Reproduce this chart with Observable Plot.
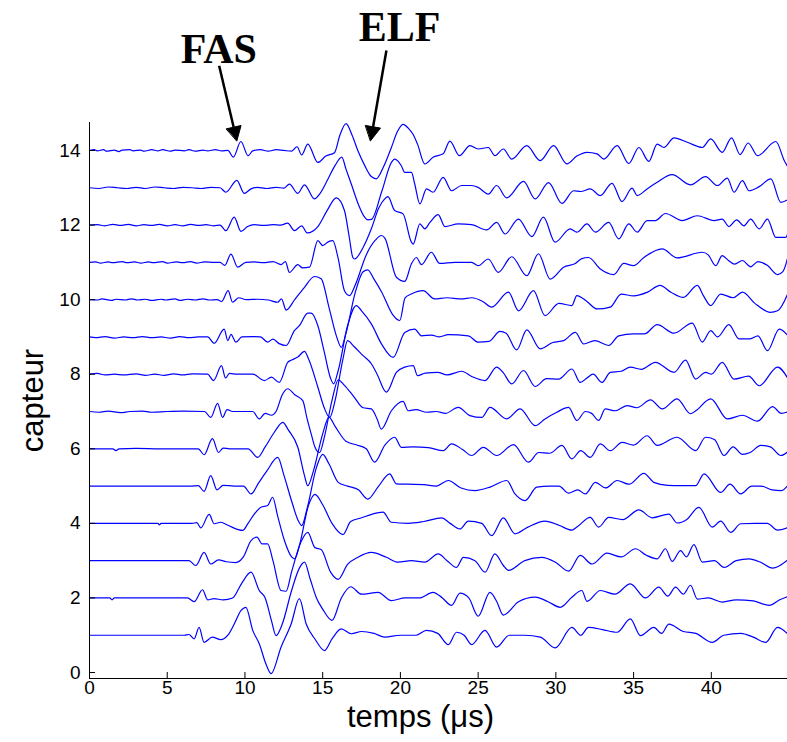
<!DOCTYPE html>
<html><head><meta charset="utf-8">
<script src="https://cdn.jsdelivr.net/npm/d3@7"></script>
<script src="https://cdn.jsdelivr.net/npm/@observablehq/plot@0.6"></script>
<style>body{margin:0;background:#fff}</style>
</head><body><div id="chart"></div>
<script>
// [time (µs), amplitude] per sensor (capteur)
const trace1 = [[0,0],[6.1,0],[6.4,0.02],[6.73,-0.1],[7.05,0.21],[7.37,-0.19],[7.9,-0.05],[8.45,-0.12],[8.9,0],[9.31,0.3],[9.74,0.66],[10.06,0.75],[10.5,0.13],[10.92,-0.23],[11.35,-0.77],[11.68,-1.03],[12.32,-0.32],[12.97,0.3],[13.5,0.98],[13.94,0.3],[14.5,-0.1],[15.12,-0.41],[15.6,-0.1],[16.19,0.17],[16.84,0.04],[17.5,0.1],[18.3,0.05],[18.99,-0.05],[20,0],[21,0],[21.68,0.13],[22.4,0.05],[23.08,-0.25],[23.61,0.08],[24.1,0],[24.58,-0.25],[25.44,0.13],[26.19,-0.32],[27,0],[28,0],[29,-0.05],[29.95,-0.34],[31.03,0.21],[31.6,0],[32.1,0.21],[33,0.15],[33.94,0.08],[34.79,0.44],[35.44,-0.01],[36.3,0.21],[36.8,0.05],[37.27,0.3],[38.2,0.1],[39,0.05],[40.06,-0.19],[40.8,0],[41.9,0.05],[42.7,-0.05],[43.5,-0.19],[44.26,0.21],[45,0]];
const trace2 = [[0,0],[1.3,0],[1.45,-0.05],[1.6,0],[6.3,0],[6.73,-0.1],[7.27,0.22],[7.6,-0.05],[8,-0.02],[8.6,-0.05],[9.2,0],[9.8,0.4],[10.39,0.69],[10.92,0.2],[11.3,0],[11.7,-0.6],[12,-1.01],[12.4,-0.7],[13,0.2],[13.5,0.8],[13.83,0.96],[14.2,0.5],[14.6,0],[15,-0.3],[15.6,-0.6],[16.2,0],[16.8,0.3],[17.5,0.1],[18.56,0.15],[19.42,-0.07],[20.3,0],[21.2,0],[22.1,0.15],[22.7,0],[23.29,-0.2],[23.83,0.13],[24.4,0],[25,-0.49],[25.76,0.15],[26.2,-0.1],[26.62,-0.46],[27.6,-0.1],[28.67,0.02],[29.5,-0.1],[30.28,-0.25],[31.03,0.02],[31.67,0.2],[32,-0.09],[32.86,0.2],[33.8,0.1],[34.79,0.38],[35.76,0],[36.62,0.29],[37.2,0.05],[37.7,0.29],[38.2,0.1],[38.66,0.34],[39.1,-0.03],[39.8,0],[40.7,-0.11],[41.6,-0.05],[42.7,-0.08],[43.72,-0.2],[44.4,-0.05],[45,0.05]];
const trace3 = [[0,0],[6.4,0],[6.84,-0.13],[7.37,0.22],[7.8,-0.09],[8.3,0.02],[8.8,-0.03],[9.4,-0.05],[9.9,0.1],[10.39,0.54],[10.77,0.63],[11.1,0.45],[11.46,0.45],[11.8,0],[12.32,-0.8],[12.65,-0.82],[13,-0.3],[13.6,0.5],[14.04,0.76],[14.5,0.35],[14.9,0.3],[15.5,-0.3],[16,-0.5],[16.6,-0.1],[17.3,0.1],[18.13,0.22],[19.1,0.09],[19.85,-0.04],[20.7,0],[21.57,-0.04],[22.43,0.18],[23,0],[23.61,-0.18],[24.05,0.09],[24.8,0],[25.44,-0.31],[26.08,0.18],[26.62,-0.13],[26.95,-0.26],[28,0],[29.1,0.09],[30,-0.05],[30.82,-0.28],[31.57,0.14],[32.32,-0.09],[33.29,0.2],[34.2,0.1],[35.12,0.32],[35.8,0.15],[36.52,0.05],[37.05,0.32],[37.48,-0.02],[38.02,0.27],[38.4,0.1],[38.88,0.43],[39.42,-0.04],[40.2,0],[40.82,-0.18],[41.6,0],[42.43,0.05],[43.2,-0.05],[43.94,-0.2],[45,0.05]];
const trace4 = [[0,0],[4.4,0],[4.5,-0.04],[4.6,0],[6.6,0],[6.9,0.02],[7.16,-0.12],[7.7,0.24],[8.02,-0.01],[8.45,0.03],[8.9,-0.05],[9.85,-0.19],[10.2,0],[10.6,0.25],[11.03,0.43],[11.46,0.48],[11.78,0.7],[12.1,0.2],[12.54,-0.46],[13,-0.9],[13.2,-0.95],[13.5,-0.6],[14.1,0.5],[14.5,0.78],[15,0.5],[15.6,0],[16.3,-0.3],[16.8,0.05],[17.5,0.15],[18.2,0.25],[18.88,0.3],[19.42,0.03],[20.5,0],[21.5,0.05],[22.65,0.15],[23.2,0],[23.83,-0.15],[24.37,0.06],[25.23,0],[25.87,-0.33],[26.62,0.15],[27.37,-0.28],[28.2,-0.1],[29.3,0.06],[30.2,-0.05],[31.03,-0.18],[31.35,-0.1],[32.21,0.16],[32.75,-0.1],[33.4,0.16],[34.3,0.1],[35.34,0.36],[36.2,0.15],[37.27,0.25],[37.8,0.01],[38.4,0.1],[39.2,0.43],[40.06,-0.1],[40.6,0.06],[41.25,-0.24],[41.89,-0.01],[42.8,0],[43.6,0],[44.26,-0.18],[45,-0.1]];
const trace5 = [[0,0],[6.5,0],[7,0.01],[7.37,-0.14],[7.8,0.28],[8.2,-0.1],[8.6,0.02],[9.3,0],[9.9,0],[10.39,-0.21],[10.9,0.1],[11.4,0.4],[12.11,0.77],[12.5,0.3],[13,-0.4],[13.4,-0.9],[13.65,-1.06],[14,-0.6],[14.6,0.5],[15,0.85],[15.4,0.6],[16,0.1],[16.6,0],[17.3,-0.1],[17.9,-0.35],[18.6,0],[19.31,0.33],[19.74,0.06],[20.5,0.05],[21.5,0.04],[22.3,0],[23.08,0.15],[23.9,-0.05],[24.8,-0.12],[25.8,-0.02],[26.84,0.15],[27.37,-0.21],[28.02,-0.39],[28.77,-0.03],[29.6,0],[30.2,0],[30.82,-0.19],[31.4,-0.1],[31.9,-0.21],[32.54,0.1],[33.2,-0.05],[33.94,0.15],[34.7,0.05],[35.66,0.34],[36.3,0.1],[37.2,0.02],[38.02,0.01],[38.99,0.01],[39.53,0.33],[40.6,-0.17],[41.2,0.05],[41.89,-0.21],[42.6,0],[43.2,0],[43.9,-0.1],[44.5,-0.12],[45,0.06]];
const trace6 = [[0,0],[1.5,0],[1.7,-0.05],[1.9,0],[3,0.01],[4.5,0],[7,0],[7.37,-0.16],[7.91,0.27],[8.3,-0.1],[8.6,0.02],[9,0],[10.2,0],[10.82,-0.23],[11.3,0.05],[11.9,0.45],[12.43,0.71],[12.8,0.5],[13.4,0.04],[13.83,-0.72],[14.04,-0.99],[14.4,-0.6],[15,0.4],[15.4,0.85],[15.8,0.6],[16.5,0.2],[17.2,0.1],[17.8,0],[18.34,-0.36],[19,0.1],[19.63,0.31],[20.06,0.04],[20.8,0.05],[21.8,0.03],[22.75,-0.05],[23.29,0.13],[24,-0.02],[24.58,-0.18],[25.33,0.04],[26.19,-0.18],[27.27,0.11],[28.24,-0.36],[28.9,-0.1],[29.6,-0.12],[30.39,0.09],[31.03,-0.27],[31.6,-0.05],[32.21,-0.23],[32.86,0.13],[33.5,-0.05],[34.26,0.17],[35,0.1],[35.87,0.35],[36.52,0.09],[37.8,0.31],[38.99,-0.05],[39.63,0.31],[40.2,0.25],[40.82,-0.18],[41.4,0.05],[42,-0.15],[42.5,-0.1],[43.18,0.09],[43.8,0.05],[44.47,-0.18],[45,-0.05]];
const trace7 = [[0,0],[0.6,-0.02],[1.2,0.01],[2,-0.03],[2.6,0],[3.4,0.01],[4,-0.02],[5,0],[6,0.01],[7.4,0],[7.8,-0.16],[8.24,0.22],[8.56,-0.16],[8.85,0.05],[9.2,0],[10.5,0],[10.92,-0.2],[11.3,-0.05],[11.7,-0.1],[12,0],[12.4,0.45],[12.75,0.61],[13.2,0.45],[13.72,0.29],[14,-0.2],[14.26,-0.6],[14.5,-0.95],[14.8,-1.1],[15.1,-0.7],[15.6,0.3],[16,0.85],[16.4,0.7],[17,0.4],[17.6,0.1],[18.13,0.07],[18.5,-0.2],[18.77,-0.47],[19.42,0.02],[20.17,0.27],[20.5,0.02],[21,0.05],[21.7,-0.02],[22.3,0],[22.9,-0.05],[23.72,0.11],[24.47,-0.11],[25.23,-0.16],[25.76,0.11],[26.84,-0.2],[27.7,0.07],[28.67,-0.38],[29.3,-0.2],[30.06,-0.02],[30.82,0.11],[31.35,-0.24],[31.9,0],[32.3,-0.05],[32.75,-0.24],[33.18,0.07],[33.8,0.02],[34.58,0.16],[35.2,0.1],[36.09,0.31],[36.84,0.07],[37.8,0.34],[38.66,-0.06],[39,0.02],[39.96,0.34],[41.03,-0.2],[42,-0.1],[42.97,-0.26],[43.94,0.13],[44.5,-0.05],[45,0]];
const trace8 = [[0,0],[0.5,0.02],[1,-0.02],[1.6,0],[2.2,-0.02],[3,0.01],[3.6,-0.03],[4.2,0],[4.8,-0.03],[5.4,0.01],[6,-0.02],[6.6,0.01],[7.6,0],[7.98,-0.17],[8.49,0.23],[8.75,-0.1],[9,0.02],[9.5,0],[10.5,0],[11.25,-0.17],[11.7,-0.08],[12.21,-0.22],[12.75,0.32],[13,0.38],[13.4,0.46],[13.83,0.61],[14.1,0.4],[14.69,-0.35],[15.1,-0.9],[15.45,-1.16],[15.8,-0.7],[16.3,0.4],[16.6,0.9],[17,0.75],[17.6,0.5],[18.13,0.28],[18.5,0],[19.1,-0.48],[19.74,0.05],[20.28,0.19],[20.82,0.23],[21.1,-0.04],[21.6,0.03],[22.4,0.05],[23,-0.02],[23.94,0.08],[24.58,-0.06],[25.44,-0.17],[26.19,0.19],[26.6,0.05],[27.16,-0.26],[27.92,0.1],[28.67,-0.33],[29.4,-0.12],[30.17,-0.13],[31.03,0.14],[31.57,-0.22],[32,-0.1],[32.4,0],[32.97,-0.22],[33.5,0.05],[34.2,0.08],[34.79,0.19],[35.5,0.13],[36.4,0.32],[37.6,0.05],[38.34,0.38],[38.99,-0.13],[39.63,0.05],[40,0],[40.7,0.32],[41.46,-0.13],[42.4,-0.05],[43.08,-0.31],[44.26,0.19],[45,-0.17]];
const trace9 = [[0,0],[0.4,-0.02],[1,0.01],[1.6,-0.03],[2.2,0],[2.8,-0.02],[3.4,0.01],[4,-0.02],[4.6,0],[5.2,-0.03],[5.8,0.01],[6.4,-0.02],[7,0],[7.6,0],[8.02,-0.17],[8.66,0.21],[8.9,-0.1],[9.1,0.07],[9.42,-0.14],[9.8,0],[10.5,0.01],[11,0],[11.46,-0.14],[11.8,-0.06],[12.2,-0.18],[12.65,-0.23],[13.18,0.17],[13.5,0.3],[14.04,0.64],[14.26,0.64],[14.69,0.3],[15.1,-0.4],[15.5,-1.1],[15.7,-1.26],[16,-0.9],[16.6,0.3],[17.16,0.84],[17.5,0.7],[18.13,0.35],[18.8,-0.2],[19.53,-0.55],[20.28,0.12],[20.92,0.21],[21.35,0.03],[22,0.05],[22.5,0],[23.08,0.06],[24.37,0.03],[25,-0.14],[25.7,-0.12],[26.4,0.15],[26.8,0.1],[27.48,-0.35],[28.13,0.19],[28.99,-0.32],[29.8,-0.15],[30.5,-0.1],[31.25,0.12],[31.79,-0.19],[32.5,-0.1],[33.4,-0.23],[34.04,0.03],[35,0.08],[35.7,0.08],[36.52,0.33],[37.6,0.1],[38.77,0.37],[39.42,-0.14],[39.96,0.17],[40.4,0],[41.13,0.33],[41.78,-0.05],[42.5,-0.05],[43,0.03],[43.61,-0.37],[44.37,0.21],[45,0]];
const trace10 = [[0,0],[0.5,-0.01],[0.8,0.02],[1.4,-0.02],[1.7,0.01],[2.3,-0.01],[2.7,0.02],[3.1,-0.01],[3.6,0.01],[4,-0.02],[4.6,0.01],[4.9,-0.01],[5.5,0.02],[5.8,-0.02],[6.3,0.01],[6.8,-0.01],[7.3,0.02],[7.7,-0.01],[8.2,0],[8.5,-0.05],[8.92,0.24],[9.2,-0.07],[9.6,0.05],[10.1,0],[10.8,0.01],[11.5,-0.01],[12.1,-0.07],[12.35,0.02],[12.65,-0.28],[13.2,0],[13.83,0.33],[14.47,0.62],[14.9,0.56],[15.4,-0.2],[15.9,-1],[16.2,-1.28],[16.5,-0.9],[17.1,0.2],[17.6,0.75],[17.9,0.8],[18.3,0.55],[18.8,0.2],[19.5,-0.4],[19.96,-0.56],[20.3,0.05],[20.7,0.15],[21.46,0.24],[22.2,0.02],[23,0.05],[23.9,0.02],[24.6,0.05],[25.3,-0.05],[25.87,-0.2],[26.95,0.2],[27.6,-0.3],[28.56,0.24],[29.3,-0.43],[30.2,-0.1],[31.03,-0.16],[31.35,0.11],[32,-0.05],[32.65,-0.25],[33.5,-0.2],[34.2,0.15],[35,0.1],[35.9,0.2],[36.7,0.38],[37.4,0.2],[38.2,0.06],[39.1,0.38],[39.5,0.1],[39.96,-0.16],[40.6,0.15],[41.4,0.05],[42,0.2],[42.8,-0.1],[43.8,-0.34],[44.26,-0.3],[45,0.24]];
const trace11 = [[0,0],[0.4,0.01],[0.7,-0.02],[1.2,0.01],[1.5,-0.01],[2.1,0.02],[2.4,-0.01],[2.9,0.01],[3.3,-0.02],[3.8,0.01],[4.1,-0.01],[4.7,0.02],[5,-0.02],[5.6,0.01],[6,-0.01],[6.5,0.02],[6.9,-0.02],[7.4,0.01],[8,0],[8.4,0],[8.7,-0.08],[9.1,0.22],[9.53,-0.13],[10.06,0],[10.6,0.01],[11.2,-0.01],[11.8,0.02],[12.32,-0.06],[12.6,0.02],[12.86,-0.27],[13.4,-0.06],[13.7,-0.15],[14.15,-0.13],[14.69,0.58],[15,0.45],[15.35,0.55],[15.65,0.58],[16,0.1],[16.4,-0.76],[16.73,-0.89],[17.1,-0.6],[17.8,0.2],[18.4,0.6],[18.77,0.72],[19,0.65],[19.74,-0.4],[20.28,-0.51],[20.71,-0.04],[21.03,0.13],[21.35,-0.06],[21.99,0.27],[22.53,-0.03],[23.5,0],[24.58,0],[25,-0.09],[25.65,0.09],[26.3,-0.27],[27.16,0.15],[28.13,-0.36],[28.88,0.23],[29.63,-0.45],[30.5,-0.13],[31.25,-0.03],[31.67,0.1],[32.1,0.13],[32.86,-0.18],[33.72,-0.33],[34.37,-0.03],[35,-0.09],[35.66,0.13],[36.84,0.36],[37.8,0.12],[39.42,0.27],[39.8,0.2],[40.28,-0.09],[40.7,0.18],[41.1,0.05],[41.5,-0.05],[42,0.05],[42.53,-0.12],[43,0.02],[43.6,-0.08],[44.26,-0.33],[44.6,-0.25],[45,0.27]];
const trace12 = [[0,0],[0.5,0.01],[1,-0.02],[1.5,0.02],[2,-0.01],[2.5,0.02],[3,-0.02],[3.5,0.01],[4,-0.01],[4.5,0.02],[5,-0.02],[5.5,0.01],[6,-0.02],[6.5,0.02],[7,-0.01],[7.5,0.01],[8,-0.02],[8.4,0],[8.77,-0.15],[9.31,0.21],[9.74,-0.17],[10.17,-0.04],[10.6,0.01],[11.2,-0.01],[11.8,0.01],[12.3,0],[12.75,0.05],[13.18,-0.15],[13.65,-0.02],[14,-0.21],[14.69,-0.04],[15.3,0.4],[15.87,0.73],[16.4,0.39],[16.7,-0.3],[16.94,-0.87],[17.05,-0.91],[17.6,-0.6],[18.13,-0.1],[18.6,0.45],[18.99,0.7],[19.2,0.76],[19.63,0.39],[20.17,0.3],[20.71,-0.46],[20.82,-0.51],[21.25,0.03],[21.57,-0.1],[21.9,0.07],[22.43,0.28],[22.86,-0.04],[23.72,0.03],[24.58,0.01],[25.55,-0.13],[26.19,0.07],[26.73,-0.24],[27.59,0.16],[28.45,-0.31],[29.2,0.21],[29.95,-0.46],[30.92,-0.1],[31.35,-0.19],[32,0.03],[32.54,-0.19],[33.4,0.07],[34.04,-0.37],[34.69,0.03],[35.23,-0.19],[35.87,0.12],[36.4,0.12],[37.05,0.31],[38.13,0.12],[39.1,0.25],[40.17,0.12],[40.7,0.16],[41.13,-0.04],[41.63,0.14],[42.1,-0.02],[42.53,0.16],[43.08,-0.1],[43.61,0.16],[44.15,-0.33],[44.8,-0.33],[45,-0.02]];
const trace13 = [[0,0],[0.6,-0.02],[1.2,0.02],[1.8,0],[2.4,-0.02],[3,0.01],[3.6,-0.02],[4.2,0.02],[4.8,0],[5.4,-0.02],[6,0.01],[6.6,0],[7.2,-0.02],[7.8,0.01],[8.4,0],[8.77,-0.12],[9.48,0.2],[9.95,-0.15],[10.39,-0.03],[10.8,0.01],[11.4,-0.02],[12,0.01],[12.5,-0.01],[12.86,0.1],[13.4,-0.15],[13.83,0.08],[14.47,-0.3],[14.8,-0.17],[15.3,0.2],[15.8,0.6],[16.23,0.82],[16.5,0.5],[16.84,0.1],[17.3,-0.45],[17.7,-0.79],[17.9,-0.86],[18.13,-0.85],[18.8,-0.1],[19.42,0.68],[19.63,0.77],[20.06,0.59],[20.28,0.41],[20.71,0.41],[20.92,0.1],[21.25,-0.43],[21.68,-0.03],[22.1,-0.12],[22.75,0.28],[23.29,-0.08],[23.94,0.06],[24.58,0.06],[25,0.01],[25.65,-0.17],[26.19,0.06],[26.84,-0.27],[27.92,0.17],[28.67,-0.3],[29.53,0.14],[30.39,-0.42],[31.14,-0.08],[31.6,-0.1],[32.21,-0.03],[32.86,-0.21],[33.61,0.12],[34.26,-0.37],[34.9,-0.01],[35.23,-0.21],[35.87,-0.03],[36.52,0.15],[37.48,0.35],[38.66,0.08],[39.63,0.3],[40.39,0.06],[41.03,0.26],[41.46,-0.12],[42,0.19],[42.43,-0.08],[43.08,0.03],[43.83,0.24],[44.47,-0.39],[45,-0.3]];
const trace14 = [[0,0],[0.3,0.02],[0.5,-0.01],[0.9,0.02],[1.1,-0.02],[1.6,0.01],[1.9,-0.03],[2.1,0.01],[2.6,0.02],[2.8,-0.01],[3.3,0.01],[3.5,-0.02],[4,0.02],[4.4,-0.01],[4.7,0.02],[5.2,-0.02],[5.5,0.01],[6.1,-0.01],[6.4,0.02],[6.8,-0.02],[7.3,0.01],[7.6,-0.01],[8.1,0.02],[8.5,-0.01],[8.9,0],[9.25,-0.18],[9.74,0.24],[10.2,-0.14],[10.5,-0.01],[11,0.02],[11.5,-0.02],[12,0.02],[12.5,0],[13,-0.02],[13.35,0.1],[13.65,-0.12],[14.04,0.17],[14.69,-0.32],[15.2,-0.15],[15.76,-0.06],[16.1,0.4],[16.5,0.72],[16.9,0.4],[17.26,0],[17.7,-0.4],[18.13,-0.7],[18.45,-0.76],[18.9,-0.45],[19.42,0.08],[19.8,0.5],[20.17,0.7],[20.5,0.6],[20.8,0.44],[21.1,0.17],[21.57,-0.36],[22.1,-0.18],[22.75,-0.09],[23.18,0.25],[23.8,-0.14],[24.47,0.13],[25,0.04],[25.65,0.08],[26.08,-0.14],[26.62,0.04],[27.16,-0.23],[28.13,0.13],[28.99,-0.27],[29.85,0.13],[30.71,-0.36],[31.35,-0.15],[32,-0.05],[32.65,-0.09],[33.08,-0.23],[33.94,0.13],[34.69,-0.35],[35.34,0.08],[35.98,-0.29],[36.52,0.17],[36.95,0.08],[37.6,0.34],[38.45,0.22],[39.42,0.08],[39.96,0.31],[40.7,-0.05],[41.3,0.34],[41.85,-0.11],[42.37,0.2],[42.97,-0.14],[44.15,0.24],[44.69,-0.27],[45,-0.5]];

const xTicks = [0, 5, 10, 15, 20, 25, 30, 35, 40];
const yTicks = [0, 2, 4, 6, 8, 10, 12, 14];
const xLabel = "temps (\u03bcs)";
const yLabel = "capteur";
// annotation: label, text position, arrow start, arrow head base, arrow tip
const annLabels = ["FAS", "ELF"];
const annText = [[8.32, 16.35], [19.94, 16.94]];
const annShaft = [[[8.34, 16.27], [9.27, 14.63]], [[19.10, 16.68], [18.24, 14.63]]];
const annHead = [[[9.48, 14.26], [9.75, 14.67], [8.81, 14.58]], [[18.08, 14.26], [18.72, 14.60], [17.76, 14.67]]];

const traces = [trace1, trace2, trace3, trace4, trace5, trace6, trace7, trace8, trace9, trace10, trace11, trace12, trace13, trace14];
const rows = traces.flatMap((tr, i) => tr.map(([t, a]) => ({sensor: i + 1, t, v: i + 1 + a})));
const xDomain = [0, 44.9], yDomain = [-0.16, 14.75];
const W = 787, H = 742, mL = 89, mR = 0, mT = 122, mB = 64;
const frameW = W - mL - mR, frameH = H - mT - mB;

const texts = annLabels.map((s, i) => ({s, x: annText[i][0], y: annText[i][1]}));
const shafts = annShaft.map(([a, b]) => ({x1: a[0], y1: a[1], x2: b[0], y2: b[1]}));
const heads = annHead.flatMap((pts, i) => pts.map(([x, y]) => ({id: i, x, y})));

const plot = Plot.plot({
  width: W, height: H,
  marginLeft: mL, marginRight: mR, marginTop: mT, marginBottom: mB,
  style: {fontFamily: "'Liberation Sans', Arial, sans-serif", color: "black", background: "white", overflow: "visible"},
  x: {domain: xDomain, axis: null},
  y: {domain: yDomain, axis: null},
  marks: [
    Plot.line(rows, {x: "t", y: "v", z: "sensor", stroke: "#0000ff", strokeWidth: 1.2, curve: "monotone-x", clip: true}),
    Plot.ruleX([xDomain[0]], {stroke: "black", strokeWidth: 1}),
    Plot.ruleY([yDomain[0]], {stroke: "black", strokeWidth: 1}),
    Plot.tickX(xTicks, {x: d => d, insetTop: frameH - 6, stroke: "black"}),
    Plot.tickY(yTicks, {y: d => d, insetRight: frameW - 6, stroke: "black"}),
    Plot.text(xTicks, {x: d => d, frameAnchor: "bottom", dy: 15, text: d => String(d), fontSize: 19, fill: "black"}),
    Plot.text(yTicks, {y: d => d, frameAnchor: "left", dx: -9, textAnchor: "end", text: d => String(d), fontSize: 19, fill: "black"}),
    Plot.text([xLabel], {frameAnchor: "bottom", dx: -18, dy: 48, textAnchor: "middle", text: d => d, fontSize: 31, fill: "black"}),
    Plot.text([yLabel], {frameAnchor: "left", dx: -56, textAnchor: "middle", rotate: -90, text: d => d, fontSize: 31, fill: "black"}),
    Plot.link(shafts, {x1: "x1", y1: "y1", x2: "x2", y2: "y2", stroke: "black", strokeWidth: 2.5}),
    Plot.line(heads, {x: "x", y: "y", z: "id", fill: "black", stroke: "black", strokeWidth: 1, curve: "linear-closed"}),
    Plot.text(texts, {x: "x", y: "y", text: "s", lineAnchor: "bottom", fontSize: 42, fontWeight: "bold", fontFamily: "'Liberation Serif', 'DejaVu Serif', serif", fill: "black"})
  ]
});
document.getElementById("chart").appendChild(plot);
</script>
</body></html>
